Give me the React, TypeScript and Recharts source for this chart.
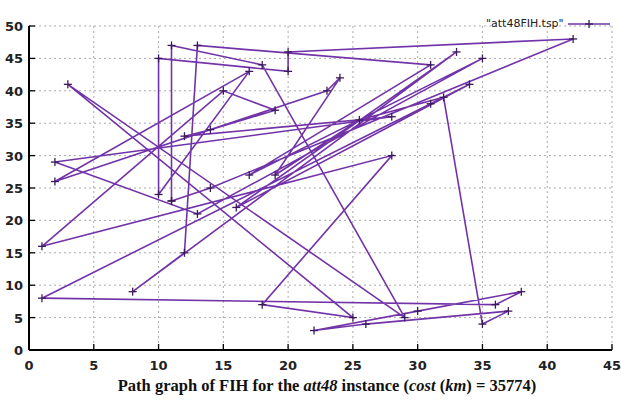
import React from 'react';
import {
  ScatterChart,
  Scatter,
  XAxis,
  YAxis,
  CartesianGrid,
  Legend,
} from 'recharts';

// tour order (x, y of each city)
const tourX = [11, 11, 18, 29, 3, 25, 18, 28, 1, 15, 19, 14, 12, 28, 2, 13, 35, 17, 31, 13, 12, 8, 33, 16, 34, 31, 1, 36, 38, 30, 22, 26, 37, 35, 32, 25.5, 19, 24, 23, 2, 17, 10, 10, 20, 20, 42, 14];
const tourY = [23, 47, 44, 5, 41, 5, 7, 30, 16, 40, 37, 34, 33, 36, 29, 21, 45, 27, 44, 47, 15, 9, 46, 22, 41, 38, 8, 7, 9, 6, 3, 4, 6, 4, 39, 35.5, 27, 42, 40, 26, 43, 24, 45, 43, 46, 48, 25];

const xTicks = [0, 5, 10, 15, 20, 25, 30, 35, 40, 45];
const yTicks = [0, 5, 10, 15, 20, 25, 30, 35, 40, 45, 50];

const tour = tourX.map((x, i) => ({ x, y: tourY[i] }));
tour.push({ ...tour[0] }); // close the tour

const PURPLE = '#7233a8';
const labelFont = { fontFamily: 'DejaVu Sans', fontSize: 13, fontWeight: 700, fill: '#222' };

const Cross = (props: any) => {
  const { cx, cy } = props;
  return (
    <g stroke="#3a1a5c" strokeWidth={1.3}>
      <line x1={cx - 4} x2={cx + 4} y1={cy} y2={cy} />
      <line x1={cx} x2={cx} y1={cy - 4} y2={cy + 4} />
    </g>
  );
};

const BottomTick = ({ x, y, payload }: any) => (
  <g>
    <line x1={x} x2={x} y1={y} y2={y - 6} stroke="#000" strokeWidth={1.3} />
    <text x={x} y={y + 20} textAnchor="middle" {...labelFont}>
      {payload.value}
    </text>
  </g>
);

const TopTick = ({ x, y }: any) => (
  <line x1={x} x2={x} y1={y} y2={y + 6} stroke="#000" strokeWidth={1.3} />
);

const LeftTick = ({ x, y, payload }: any) => (
  <g>
    <line x1={x} x2={x + 6} y1={y} y2={y} stroke="#000" strokeWidth={1.3} />
    <text x={x - 6} y={y + 5} textAnchor="end" {...labelFont}>
      {payload.value}
    </text>
  </g>
);

const RightTick = ({ x, y }: any) => (
  <line x1={x} x2={x - 6} y1={y} y2={y} stroke="#000" strokeWidth={1.3} />
);

const KeyBox = () => (
  <div style={{ display: 'flex', alignItems: 'center' }}>
    <span style={{ fontFamily: 'DejaVu Sans', fontSize: 11, color: '#222' }}>"att48FIH.tsp"</span>
    <svg width={44} height={12} style={{ marginLeft: 4 }}>
      <line x1={0} x2={42} y1={6} y2={6} stroke={PURPLE} strokeWidth={1.5} />
      <line x1={17} x2={25} y1={6} y2={6} stroke="#3a1a5c" strokeWidth={1.3} />
      <line x1={21} x2={21} y1={2} y2={10} stroke="#3a1a5c" strokeWidth={1.3} />
    </svg>
  </div>
);

export default function App() {
  return (
    <div style={{ position: 'absolute', left: 0, top: 0, width: 621, height: 405, background: '#fff' }}>
      <ScatterChart width={621} height={405} margin={{ top: 13, right: 9, bottom: 0, left: 0 }}>
        <CartesianGrid stroke="#aaa" strokeDasharray="2 3" />
        <XAxis
          type="number"
          dataKey="x"
          domain={[0, 45]}
          ticks={xTicks}
          height={55}
          tickSize={0}
          tickMargin={0}
          tick={<BottomTick />}
          axisLine={{ stroke: '#000', strokeWidth: 2 }}
          tickLine={false}
        />
        <XAxis
          xAxisId="top"
          orientation="top"
          type="number"
          domain={[0, 45]}
          ticks={xTicks}
          height={0}
          tickSize={0}
          tickMargin={0}
          tick={<TopTick />}
          axisLine={{ stroke: '#000', strokeWidth: 2 }}
          tickLine={false}
        />
        <YAxis
          type="number"
          dataKey="y"
          domain={[0, 50]}
          ticks={yTicks}
          width={29}
          tickSize={0}
          tickMargin={0}
          tick={<LeftTick />}
          axisLine={{ stroke: '#000', strokeWidth: 2 }}
          tickLine={false}
        />
        <YAxis
          yAxisId="right"
          orientation="right"
          type="number"
          domain={[0, 50]}
          ticks={yTicks}
          width={0}
          tickSize={0}
          tickMargin={0}
          tick={<RightTick />}
          axisLine={{ stroke: '#000', strokeWidth: 2 }}
          tickLine={false}
        />
        <Legend
          verticalAlign="top"
          align="right"
          content={<KeyBox />}
          wrapperStyle={{ position: 'absolute', top: 17, left: 486, width: 130 }}
        />
        <Scatter
          name="att48FIH.tsp"
          data={tour}
          line={{ stroke: PURPLE, strokeWidth: 1.6 }}
          shape={<Cross />}
          fill={PURPLE}
          isAnimationActive={false}
        />
      </ScatterChart>
      <div
        style={{
          position: 'absolute',
          left: 0,
          top: 376,
          width: 654,
          textAlign: 'center',
          fontFamily: '"Liberation Serif", serif',
          fontWeight: 700,
          fontSize: 16.5,
          whiteSpace: 'nowrap',
          color: '#111',
        }}
      >
        Path graph of FIH for the <i>att48</i> instance (<i>cost</i> (<i>km</i>) = 35774)
      </div>
    </div>
  );
}
